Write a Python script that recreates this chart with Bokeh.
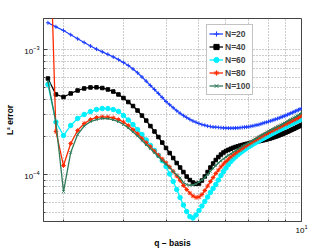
from bokeh.plotting import figure
from bokeh.models import FixedTicker, LogTickFormatter, Legend, LegendItem, Range1d
from bokeh.embed import file_html
from bokeh.resources import INLINE

q = [1.8, 1.9, 2.0, 2.1, 2.2, 2.3, 2.4, 2.5, 2.6, 2.7, 2.8, 2.9,
     3.0, 3.1, 3.2, 3.3, 3.4, 3.5, 3.6, 3.7, 3.8, 3.9,
     4.0, 4.1, 4.2, 4.3, 4.4, 4.5, 4.6, 4.7, 4.8, 4.9,
     5.0, 5.1, 5.2, 5.3, 5.4, 5.5, 5.6, 5.7, 5.8, 5.9,
     6.0, 6.1, 6.2, 6.3, 6.4, 6.5, 6.6, 6.7, 6.8, 6.9,
     7.0, 7.1, 7.2, 7.3, 7.4, 7.5, 7.6, 7.7, 7.8, 7.9,
     8.0, 8.1, 8.2, 8.3, 8.4, 8.5, 8.6, 8.7, 8.8, 8.9,
     9.0, 9.1, 9.2, 9.3, 9.4, 9.5, 9.6, 9.7, 9.8, 9.9, 10.0]

err_n20 = [1.636e-3, 1.519e-3, 1.419e-3, 1.313e-3, 1.218e-3, 1.138e-3, 1.067e-3, 1.007e-3,
           9.58e-4, 9.15e-4, 8.73e-4, 8.30e-4,
           7.87e-4, 7.45e-4, 6.98e-4, 6.51e-4, 6.03e-4, 5.58e-4, 5.15e-4, 4.79e-4, 4.45e-4, 4.13e-4,
           3.84e-4, 3.62e-4, 3.42e-4, 3.24e-4, 3.09e-4, 2.96e-4, 2.86e-4, 2.76e-4, 2.68e-4, 2.62e-4,
           2.56e-4, 2.51e-4, 2.48e-4, 2.44e-4, 2.42e-4, 2.40e-4, 2.39e-4, 2.38e-4, 2.37e-4, 2.36e-4,
           2.355e-4, 2.35e-4, 2.35e-4, 2.35e-4, 2.355e-4, 2.36e-4, 2.37e-4, 2.38e-4, 2.39e-4, 2.40e-4,
           2.41e-4, 2.43e-4, 2.45e-4, 2.47e-4, 2.49e-4, 2.51e-4, 2.54e-4, 2.57e-4, 2.60e-4, 2.62e-4,
           2.65e-4, 2.68e-4, 2.71e-4, 2.74e-4, 2.77e-4, 2.80e-4, 2.83e-4, 2.87e-4, 2.90e-4, 2.94e-4,
           2.97e-4, 3.01e-4, 3.05e-4, 3.09e-4, 3.13e-4, 3.17e-4, 3.21e-4, 3.25e-4, 3.29e-4, 3.33e-4, 3.38e-4]

err_n40 = [5.86e-4, 4.37e-4, 4.17e-4, 4.45e-4, 4.70e-4, 4.88e-4, 4.97e-4, 4.98e-4,
           4.92e-4, 4.79e-4, 4.61e-4, 4.37e-4,
           4.09e-4, 3.80e-4, 3.53e-4, 3.25e-4, 2.96e-4, 2.70e-4, 2.44e-4, 2.21e-4, 1.995e-4, 1.80e-4,
           1.63e-4, 1.486e-4, 1.355e-4, 1.236e-4, 1.138e-4, 1.047e-4, 9.64e-5, 9.04e-5, 8.63e-5, 8.43e-5,
           8.47e-5, 8.95e-5, 9.64e-5, 1.047e-4, 1.138e-4, 1.225e-4, 1.306e-4, 1.380e-4, 1.445e-4, 1.50e-4,
           1.542e-4, 1.576e-4, 1.608e-4, 1.635e-4, 1.660e-4, 1.681e-4, 1.703e-4, 1.722e-4, 1.741e-4, 1.760e-4,
           1.777e-4, 1.792e-4, 1.807e-4, 1.820e-4, 1.833e-4, 1.847e-4, 1.861e-4, 1.876e-4, 1.892e-4, 1.909e-4,
           1.927e-4, 1.946e-4, 1.966e-4, 1.988e-4, 2.010e-4, 2.034e-4, 2.059e-4, 2.086e-4, 2.113e-4, 2.140e-4,
           2.168e-4, 2.198e-4, 2.228e-4, 2.259e-4, 2.291e-4, 2.323e-4, 2.355e-4, 2.388e-4, 2.421e-4, 2.455e-4, 2.489e-4]

err_n60 = [5.25e-4, 2.63e-4, 2.05e-4, 2.47e-4, 2.81e-4, 3.02e-4, 3.19e-4, 3.31e-4,
           3.37e-4, 3.37e-4, 3.31e-4, 3.20e-4,
           2.96e-4, 2.73e-4, 2.51e-4, 2.29e-4, 2.09e-4, 1.89e-4, 1.71e-4, 1.56e-4, 1.42e-4, 1.29e-4,
           1.16e-4, 1.01e-4, 8.79e-5, 7.59e-5, 6.55e-5, 5.70e-5, 5.06e-5, 4.61e-5, 4.49e-5, 4.74e-5,
           5.15e-5, 5.60e-5, 6.08e-5, 6.61e-5, 7.18e-5, 7.73e-5, 8.32e-5, 9.04e-5, 9.82e-5, 1.057e-4,
           1.127e-4, 1.202e-4, 1.271e-4, 1.330e-4, 1.385e-4, 1.437e-4, 1.486e-4, 1.533e-4, 1.579e-4, 1.623e-4,
           1.666e-4, 1.706e-4, 1.747e-4, 1.786e-4, 1.826e-4, 1.864e-4, 1.902e-4, 1.941e-4, 1.977e-4, 2.014e-4,
           2.051e-4, 2.089e-4, 2.124e-4, 2.160e-4, 2.196e-4, 2.233e-4, 2.270e-4, 2.308e-4, 2.346e-4, 2.381e-4,
           2.416e-4, 2.452e-4, 2.489e-4, 2.526e-4, 2.563e-4, 2.601e-4, 2.640e-4, 2.674e-4, 2.709e-4, 2.744e-4, 2.780e-4]

err_n80 = [3.0e-2, 2.21e-4, 1.18e-4, 1.77e-4, 2.25e-4, 2.56e-4, 2.75e-4, 2.86e-4,
           2.89e-4, 2.88e-4, 2.84e-4, 2.75e-4,
           2.63e-4, 2.47e-4, 2.29e-4, 2.12e-4, 1.95e-4, 1.80e-4, 1.67e-4, 1.54e-4, 1.43e-4, 1.33e-4,
           1.24e-4, 1.15e-4, 1.06e-4, 9.73e-5, 8.95e-5, 8.17e-5, 7.59e-5, 7.11e-5, 6.73e-5, 6.55e-5,
           6.61e-5, 6.92e-5, 7.45e-5, 8.09e-5, 8.79e-5, 9.46e-5, 1.019e-4, 1.086e-4, 1.152e-4, 1.213e-4,
           1.271e-4, 1.328e-4, 1.383e-4, 1.435e-4, 1.483e-4, 1.530e-4, 1.576e-4, 1.620e-4, 1.663e-4, 1.706e-4,
           1.751e-4, 1.793e-4, 1.837e-4, 1.878e-4, 1.920e-4, 1.963e-4, 2.003e-4, 2.044e-4, 2.086e-4, 2.124e-4,
           2.164e-4, 2.204e-4, 2.241e-4, 2.278e-4, 2.316e-4, 2.355e-4, 2.394e-4, 2.434e-4, 2.470e-4, 2.507e-4,
           2.544e-4, 2.582e-4, 2.620e-4, 2.659e-4, 2.699e-4, 2.739e-4, 2.780e-4, 2.821e-4, 2.863e-4, 2.906e-4, 2.949e-4]

err_n100 = [5.55e-4, 2.61e-4, 7.31e-5, 1.50e-4, 2.09e-4, 2.44e-4, 2.65e-4, 2.75e-4,
            2.81e-4, 2.80e-4, 2.74e-4, 2.65e-4,
            2.51e-4, 2.36e-4, 2.19e-4, 2.03e-4, 1.87e-4, 1.73e-4, 1.61e-4, 1.49e-4, 1.39e-4, 1.29e-4,
            1.21e-4, 1.13e-4, 1.06e-4, 9.96e-5, 9.39e-5, 8.63e-5, 8.32e-5, 8.20e-5, 8.24e-5, 8.43e-5,
            8.71e-5, 9.04e-5, 9.46e-5, 1.00e-4, 1.06e-4, 1.121e-4, 1.180e-4, 1.236e-4, 1.289e-4, 1.338e-4,
            1.383e-4, 1.424e-4, 1.467e-4, 1.508e-4, 1.550e-4, 1.591e-4, 1.632e-4, 1.675e-4, 1.716e-4, 1.757e-4,
            1.800e-4, 1.843e-4, 1.884e-4, 1.927e-4, 1.970e-4, 2.014e-4, 2.055e-4, 2.097e-4, 2.140e-4, 2.180e-4,
            2.220e-4, 2.262e-4, 2.299e-4, 2.338e-4, 2.377e-4, 2.416e-4, 2.457e-4, 2.498e-4, 2.539e-4, 2.582e-4,
            2.625e-4, 2.669e-4, 2.714e-4, 2.759e-4, 2.805e-4, 2.852e-4, 2.900e-4, 2.949e-4, 2.998e-4, 3.048e-4, 3.099e-4]

labels = ["N=20", "N=40", "N=60", "N=80", "N=100"]
x_major = [10]
x_minor = [2, 3, 4, 5, 6, 7, 8, 9]
y_major = [1e-4, 1e-3]
y_minor = [5e-5, 6e-5, 7e-5, 8e-5, 9e-5, 2e-4, 3e-4, 4e-4, 5e-4, 6e-4, 7e-4, 8e-4, 9e-4]

FONT = "Liberation Sans"

p = figure(width=332, height=250, x_axis_type="log", y_axis_type="log",
           x_range=Range1d(1.747, 10), y_range=Range1d(4.21e-5, 1.77e-3),
           output_backend="svg", toolbar_location=None,
           min_border_left=43, min_border_right=31, min_border_top=18, min_border_bottom=28)
p.background_fill_color = "white"
p.border_fill_color = "white"
p.outline_line_color = "#444444"
p.outline_line_width = 1

p.xaxis.ticker = FixedTicker(ticks=x_major, minor_ticks=x_minor)
p.yaxis.ticker = FixedTicker(ticks=y_major, minor_ticks=y_minor)
p.xaxis.formatter = LogTickFormatter()
p.yaxis.formatter = LogTickFormatter()
for ax in (p.xaxis[0], p.yaxis[0]):
    ax.axis_line_color = "#444444"
    ax.major_tick_in = 4
    ax.major_tick_out = 0
    ax.minor_tick_in = 2
    ax.minor_tick_out = 0
    ax.major_tick_line_color = "#444444"
    ax.minor_tick_line_color = "#444444"
    ax.major_label_text_font = FONT
    ax.major_label_text_font_size = "8px"
    ax.major_label_text_color = "black"
    ax.axis_label_text_font = FONT
    ax.axis_label_text_font_size = "8.5px"
    ax.axis_label_text_font_style = "bold"
    ax.axis_label_text_color = "black"
p.xaxis.axis_label = "q \u2013 basis"
p.yaxis.axis_label = "L\u00b2 error"
p.xaxis.major_label_standoff = 3
p.xaxis.axis_label_standoff = 2
p.yaxis.major_label_standoff = 4
p.yaxis.axis_label_standoff = 6

for g in (p.xgrid[0], p.ygrid[0]):
    g.grid_line_color = "#9a9a9a"
    g.grid_line_dash = "1 2"
    g.grid_line_width = 1
    g.minor_grid_line_color = "#9a9a9a"
    g.minor_grid_line_dash = "1 2"
    g.minor_grid_line_width = 1

series = [
    (err_n20, "#2040ff", "cross", 4),
    (err_n40, "#000000", "square", 3.5),
    (err_n60, "#00f0ff", "circle", 4.5),
    (err_n80, "#ff2a00", "asterisk", 4.5),
    (err_n100, "#2f7a5a", "x", 3.5),
]
items = []
for (vals, col, mk, sz), lab in zip(series, labels):
    r1 = p.line(q, vals, line_color=col, line_width=1.3)
    r2 = p.scatter(q, vals, marker=mk, size=sz, line_color=col, fill_color=col, line_width=1.0)
    items.append(LegendItem(label=lab, renderers=[r1, r2]))

legend = Legend(items=items, location=(163, 126))
legend.label_text_font = FONT
legend.label_text_font_size = "8.5px"
legend.label_text_font_style = "bold"
legend.label_standoff = 2
legend.glyph_width = 14
legend.glyph_height = 13
legend.label_height = 13
legend.label_width = 10
legend.spacing = 0
legend.padding = 2
legend.margin = 0
legend.border_line_color = "#888888"
legend.border_line_width = 1
legend.background_fill_color = "white"
legend.background_fill_alpha = 1
p.add_layout(legend)

open("out.html", "w").write(file_html(p, INLINE))
